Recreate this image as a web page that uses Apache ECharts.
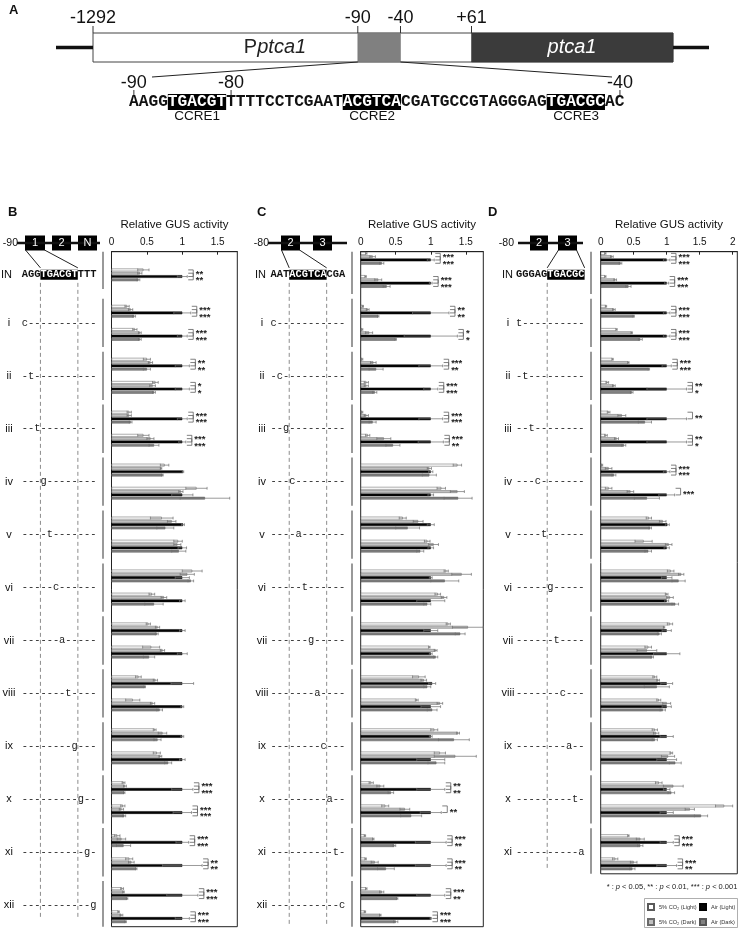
<!DOCTYPE html>
<html>
<head>
<meta charset="utf-8">
<title>ptca1 promoter GUS activity</title>
<script src="https://cdn.jsdelivr.net/npm/echarts@6.0.0/dist/echarts.min.js"></script>
<style>html,body{margin:0;padding:0;background:#fff;}#chart{width:739px;height:930px;}</style>
</head>
<body>
<div id="chart"></div>
<script>
// ================= DATA =================
const CONDITIONS = ['5% CO₂ (Light)', '5% CO₂ (Dark)', 'Air (Light)', 'Air (Dark)'];
const LEGEND_COL1 = ['5% CO₂ (Light)', '5% CO₂ (Dark)'];
const LEGEND_COL2 = ['Air (Light)', 'Air (Dark)'];
const AXIS_TITLE = 'Relative GUS activity';
const P_NOTE = '* : {i|p} < 0.05, ** : {i|p} < 0.01, *** : {i|p} < 0.001';

// Panel A
const A_SEQ = 'AAGGTGACGTTTTTCCTCGAATACGTCACGATGCCGTAGGGAGTGACGCAC';
const A_CCRE = [[4, 10, 'CCRE1'], [22, 28, 'CCRE2'], [43, 49, 'CCRE3']];
const A_TOP_LABELS = ['-1292', '-90', '-40', '+61'];
const A_SEQ_LABELS = [[0, '-90'], [10, '-80'], [50, '-40']];

// Panel B (one subgroup for IN, two for each mutant)
const B_ROWS = ['IN','i','ii','iii','iv','v','vi','vii','viii','ix','x','xi','xii'];
const B_SEQ = 'AGGTGACGTTTT';
const B_MUT = ['c','t','t','g','t','c','a','t','g','g','g','g'];
const B_co2Light    = [0.45, 0.22,0.33, 0.50,0.62, 0.25,0.45, 0.75,1.20, 0.71,0.94, 1.14,0.57, 0.52,0.56, 0.38,0.30, 0.61,0.64, 0.17,0.16, 0.08,0.25, 0.15,0.10];
const B_co2LightErr = [0.08, 0.03,0.03, 0.05,0.04, 0.03,0.08, 0.06,0.15, 0.16,0.06, 0.14,0.04, 0.03,0.12, 0.04,0.10, 0.02,0.05, 0.02,0.03, 0.04,0.05, 0.02,0.01];
const B_co2Dark     = [0.40, 0.27,0.40, 0.55,0.58, 0.25,0.55, 0.70,0.98, 0.85,0.93, 1.07,0.74, 0.65,0.72, 0.62,0.58, 0.72,0.69, 0.19,0.14, 0.14,0.28, 0.17,0.14];
const B_co2DarkErr  = [0.03, 0.03,0.02, 0.03,0.04, 0.03,0.05, 0.01,0.03, 0.06,0.05, 0.10,0.04, 0.03,0.03, 0.03,0.03, 0.06,0.02, 0.02,0.03, 0.06,0.04, 0.01,0.02];
const B_airLight    = [1.00, 1.00,1.00, 1.00,1.00, 1.00,1.00, 1.01,1.00, 1.01,1.00, 1.00,1.00, 1.00,1.00, 1.00,1.00, 1.00,1.00, 1.00,1.00, 1.00,1.00, 1.00,1.00];
const B_airLightErr = [0.07, 0.12,0.07, 0.10,0.10, 0.07,0.05, 0.01,0.15, 0.02,0.06, 0.10,0.04, 0.04,0.07, 0.16,0.02, 0.02,0.04, 0.15,0.13, 0.09,0.28, 0.22,0.10];
const B_airDark     = [0.38, 0.32,0.40, 0.50,0.60, 0.27,0.60, 0.72,1.32, 0.76,0.95, 1.12,0.60, 0.64,0.53, 0.47,0.68, 0.65,0.80, 0.18,0.18, 0.17,0.35, 0.22,0.20];
const B_airDarkErr  = [0.02, 0.02,0.02, 0.05,0.02, 0.02,0.07, 0.01,0.35, 0.12,0.10, 0.04,0.13, 0.02,0.08, 0.01,0.04, 0.05,0.05, 0.01,0.02, 0.10,0.01, 0.01,0.01];
const B_starsLight  = ['**', '***','***', '**','*', '***','***', '','', '','', '','', '','', '','', '','', '***','***', '***','**', '***','***'];
const B_starsDark   = ['**', '***','***', '**','*', '***','***', '','', '','', '','', '','', '','', '','', '***','***', '***','**', '***','***'];

// Panel C
const C_ROWS = ['IN','i','ii','iii','iv','v','vi','vii','viii','ix','x','xi','xii'];
const C_SEQ = 'AATACGTCACGA';
const C_MUT = ['c','c','g','c','a','t','g','a','c','a','t','c'];
const C_co2Light    = [0.08,0.07, 0.03,0.02, 0.02,0.08, 0.02,0.10, 1.38,1.15, 0.60,0.95, 1.22,1.10, 1.25,0.98, 0.83,0.80, 1.05,1.13, 0.15,0.35, 0.06,0.07, 0.08,0.06];
const C_co2LightErr = [0.01,0.01, 0.01,0.01, 0.01,0.03, 0.01,0.03, 0.06,0.06, 0.05,0.04, 0.03,0.04, 0.03,0.01, 0.09,0.02, 0.05,0.08, 0.03,0.05, 0.01,0.01, 0.01,0.01];
const C_co2Dark     = [0.17,0.25, 0.10,0.12, 0.18,0.08, 0.08,0.33, 0.98,1.38, 0.82,1.04, 1.44,1.19, 1.53,1.07, 0.90,1.13, 1.39,1.35, 0.28,0.63, 0.18,0.20, 0.30,0.28];
const C_co2DarkErr  = [0.04,0.05, 0.02,0.05, 0.04,0.03, 0.03,0.10, 0.03,0.10, 0.07,0.07, 0.14,0.04, 0.22,0.02, 0.04,0.04, 0.02,0.30, 0.05,0.07, 0.01,0.05, 0.03,0.01];
const C_airLight    = [1.00,1.00, 1.00,1.00, 1.00,1.00, 1.00,1.00, 1.00,1.00, 1.00,1.00, 1.00,1.00, 1.00,1.00, 1.02,1.00, 1.00,1.00, 1.00,1.00, 1.00,1.00, 1.00,1.00];
const C_airLightErr = [0.05,0.02, 0.26,0.38, 0.17,0.10, 0.17,0.18, 0.03,0.04, 0.05,0.04, 0.02,0.20, 0.10,0.02, 0.05,0.14, 0.02,0.20, 0.20,0.15, 0.22,0.22, 0.20,0.01];
const C_airDark     = [0.30,0.37, 0.25,0.50, 0.22,0.20, 0.17,0.46, 0.98,1.39, 0.67,0.85, 1.20,0.95, 1.42,1.07, 0.95,1.02, 1.33,1.08, 0.43,0.72, 0.48,0.36, 0.52,0.50];
const C_airDarkErr  = [0.03,0.05, 0.01,0.01, 0.10,0.03, 0.05,0.10, 0.10,0.20, 0.17,0.05, 0.20,0.05, 0.07,0.03, 0.05,0.07, 0.22,0.12, 0.04,0.15, 0.02,0.12, 0.01,0.03];
const C_starsLight  = ['***','***', '**','*', '***','***', '***','***', '','', '','', '','', '','', '','', '','', '**','**', '***','***', '***','***'];
const C_starsDark   = ['***','***', '**','*', '**','***', '***','**', '','', '','', '','', '','', '','', '','', '**','', '**','**', '**','***'];

// Panel D
const D_ROWS = ['IN','i','ii','iii','iv','v','vi','vii','viii','ix','x','xi'];
const D_SEQ = 'GGGAGTGACGC';
const D_MUT = ['t','t','t','c','t','g','t','c','a','t','a'];
const D_co2Light    = [0.07,0.07, 0.08,0.24, 0.18,0.10, 0.12,0.08, 0.02,0.12, 0.73,0.65, 1.06,1.00, 1.05,0.72, 0.82,0.88, 0.82,1.07, 0.88,1.87, 0.42,0.22];
const D_co2LightErr = [0.01,0.01, 0.01,0.01, 0.01,0.02, 0.02,0.02, 0.01,0.05, 0.04,0.13, 0.05,0.02, 0.04,0.05, 0.03,0.03, 0.04,0.02, 0.05,0.13, 0.01,0.04];
const D_co2Dark     = [0.17,0.22, 0.20,0.47, 0.42,0.20, 0.32,0.24, 0.12,0.45, 0.94,1.03, 1.22,1.05, 0.96,0.70, 0.87,1.00, 0.84,1.02, 1.10,1.35, 0.60,0.50];
const D_co2DarkErr  = [0.02,0.02, 0.02,0.01, 0.01,0.02, 0.06,0.03, 0.05,0.05, 0.05,0.05, 0.04,0.05, 0.01,0.15, 0.02,0.06, 0.04,0.10, 0.15,0.07, 0.06,0.05];
const D_airLight    = [1.00,1.00, 1.00,1.00, 1.00,1.00, 1.00,1.00, 1.00,1.00, 1.01,1.00, 1.00,1.00, 1.00,1.00, 1.00,1.00, 1.00,1.00, 1.00,1.00, 1.00,1.00];
const D_airLightErr = [0.05,0.03, 0.05,0.05, 0.07,0.30, 0.30,0.30, 0.05,0.12, 0.03,0.04, 0.08,0.03, 0.07,0.20, 0.09,0.07, 0.10,0.15, 0.05,0.10, 0.10,0.15];
const D_airDark     = [0.30,0.42, 0.50,0.60, 0.73,0.47, 0.67,0.35, 0.20,0.70, 0.75,0.72, 1.18,1.13, 0.89,0.78, 0.85,0.94, 0.82,1.13, 1.07,1.52, 0.60,0.48];
const D_airDarkErr  = [0.02,0.04, 0.01,0.03, 0.01,0.02, 0.10,0.03, 0.03,0.19, 0.02,0.05, 0.10,0.05, 0.03,0.02, 0.19,0.04, 0.04,0.09, 0.05,0.10, 0.04,0.04];
const D_starsLight  = ['***','***', '***','***', '***','**', '**','**', '***','***', '','', '','', '','', '','', '','', '','', '***','***'];
const D_starsDark   = ['***','***', '***','***', '***','*', '','*', '***','', '','', '','', '','', '','', '','', '','', '***','**'];

// ================= STYLE / LAYOUT =================
const FONT = "'Liberation Sans', Arial, Helvetica, sans-serif";
const MONO = "'Liberation Mono', 'Courier New', monospace";
const BAR_STYLE = [
  {color:'#ffffff', border:'#5a5a5a'},
  {color:'#bfbfbf', border:'#6a6a6a'},
  {color:'#050505', border:'#000000'},
  {color:'#818181', border:'#555555'}
];
const TOP = 251.7;
const PANELS = [
  {rows:B_ROWS, single:true, N:204, left:111.5, width:125.8, height:675, max:1.777,
   vals:[B_co2Light,B_co2Dark,B_airLight,B_airDark], errs:[B_co2LightErr,B_co2DarkErr,B_airLightErr,B_airDarkErr], stars:[B_starsLight,B_starsDark]},
  {rows:C_ROWS, single:false, N:204, left:360.7, width:122.6, height:675, max:1.75,
   vals:[C_co2Light,C_co2Dark,C_airLight,C_airDark], errs:[C_co2LightErr,C_co2DarkErr,C_airLightErr,C_airDarkErr], stars:[C_starsLight,C_starsDark]},
  {rows:D_ROWS, single:false, N:188, left:600.7, width:136.6, height:622.1, max:2.07,
   vals:[D_co2Light,D_co2Dark,D_airLight,D_airDark], errs:[D_co2LightErr,D_co2DarkErr,D_airLightErr,D_airDarkErr], stars:[D_starsLight,D_starsDark]}
];

function slotStarts(n, single) {
  const s = [];
  for (let r = 0; r < n; r++) {
    if (r === 0 && single) s.push(5);
    else s.push(16 * r, 16 * r + 7);
  }
  return s;
}

function renderErr(params, api) {
  const a = api.coord([api.value(0), api.value(2)]);
  const b = api.coord([api.value(1), api.value(2)]);
  const h = 1.4;
  const st = {stroke:'#6e6e6e', lineWidth:0.7};
  return {type:'group', children:[
    {type:'line', shape:{x1:a[0], y1:a[1], x2:b[0], y2:b[1]}, style:st},
    {type:'line', shape:{x1:a[0], y1:a[1]-h, x2:a[0], y2:a[1]+h}, style:st},
    {type:'line', shape:{x1:b[0], y1:b[1]-h, x2:b[0], y2:b[1]+h}, style:st}
  ]};
}

function makeBracket(P) {
  return function (params, api) {
    const bxL = api.value(0), s = api.value(1), bxD = api.value(2), g = api.value(3);
    const children = [];
    const st = {stroke:'#606060', lineWidth:0.8, fill:null};
    const yOf = i => api.coord([0, s + i])[1];
    const add = (bx, i0, i1, txt, ty) => {
      const X = api.coord([bx, s + i0])[0] + 6;
      const y0 = yOf(i0), y1 = yOf(i1);
      children.push({type:'polyline', shape:{points:[[X-5, y0], [X, y0], [X, y1], [X-5, y1]]}, style:st});
      children.push({type:'text', style:{text:txt, x:X + 2.5, y:ty + 2.4, font:'bold 9.5px ' + FONT, fill:'#222',
        textAlign:'left', textVerticalAlign:'middle', align:'left', verticalAlign:'middle'}});
    };
    const sl = P.stars[0][g], sd = P.stars[1][g];
    if (sl) add(bxL, 0, 2, sl, (yOf(0) + yOf(1)) / 2 - (sd ? 0 : -2));
    if (sd) add(bxD, 1, 3, sd, (yOf(2) + yOf(3)) / 2);
    return {type:'group', children};
  };
}

const grids = [], xAxes = [], yAxes = [], series = [];
PANELS.forEach((P, k) => {
  P.starts = slotStarts(P.rows.length, P.single);
  grids.push({left:P.left, top:TOP, width:P.width, height:P.height, show:true, borderColor:'#222', borderWidth:1, backgroundColor:'transparent'});
  xAxes.push({gridIndex:k, type:'value', position:'top', min:0, max:P.max, interval:0.5,
    name:AXIS_TITLE, nameLocation:'middle', nameGap:21,
    nameTextStyle:{fontFamily:FONT, fontSize:11.5, color:'#111'},
    axisLine:{show:true, lineStyle:{color:'#222', width:1}},
    axisTick:{show:true, inside:true, length:3, lineStyle:{color:'#222'}},
    axisLabel:{fontFamily:FONT, fontSize:10, color:'#111', margin:4, showMaxLabel:false},
    splitLine:{show:false}});
  yAxes.push({gridIndex:k, type:'category', inverse:true, show:false,
    data:Array.from({length:P.N}, (_, i) => String(i))});
  CONDITIONS.forEach((name, ci) => {
    const data = new Array(P.N).fill('-');
    P.starts.forEach((s, g) => { data[s + ci] = P.vals[ci][g]; });
    series.push({type:'bar', name, xAxisIndex:k, yAxisIndex:k, data, barWidth:2.7, barGap:'-100%',
      itemStyle:{color:BAR_STYLE[ci].color, borderColor:BAR_STYLE[ci].border, borderWidth:0.5},
      silent:true, animation:false});
  });
  const ed = [];
  P.starts.forEach((s, g) => {
    for (let ci = 0; ci < 4; ci++) {
      const v = P.vals[ci][g], e = P.errs[ci][g];
      ed.push([Math.max(0, v - e), v + e, s + ci]);
    }
  });
  series.push({type:'custom', xAxisIndex:k, yAxisIndex:k, data:ed, encode:{x:[0,1], y:2},
    renderItem:renderErr, silent:true, z:5, animation:false});
  const bd = [];
  P.starts.forEach((s, g) => {
    const tp = ci => P.vals[ci][g] + P.errs[ci][g];
    if (!P.stars[0][g] && !P.stars[1][g]) return;
    bd.push([Math.max(tp(0), tp(1), tp(2)), s, Math.max(tp(1), tp(2), tp(3)), g]);
  });
  series.push({type:'custom', xAxisIndex:k, yAxisIndex:k, data:bd, encode:{x:[0,2], y:1},
    renderItem:makeBracket(P), silent:true, z:6, animation:false});
});

const legendBase = {orient:'vertical', top:903, itemWidth:6, itemHeight:6, itemGap:7, padding:0,
  icon:'rect', selectedMode:false, textStyle:{fontFamily:FONT, fontSize:5.6, color:'#333'}};
const chart = echarts.init(document.getElementById('chart'), null, {renderer:'canvas', width:739, height:930});
chart.setOption({
  animation:false,
  backgroundColor:'#ffffff',
  grid:grids, xAxis:xAxes, yAxis:yAxes, series,
  legend:[Object.assign({data:LEGEND_COL1, left:647}, legendBase), Object.assign({data:LEGEND_COL2, left:699}, legendBase)]
});

// ================= ANNOTATION GRAPHICS =================
const G = [];
function txt(x, y, text, size, opt) {
  opt = opt || {};
  G.push({type:'text', silent:true, z:10, style:Object.assign({
    x, y, text, fill:opt.fill || '#111',
    font:(opt.weight || 'normal') + ' ' + size + 'px ' + (opt.family || FONT),
    textAlign:opt.align || 'left', align:opt.align || 'left',
    textVerticalAlign:'middle', verticalAlign:'middle'}, opt.extra || {})});
}
function ln(x1, y1, x2, y2, w, color, dash) {
  G.push({type:'line', silent:true, z:9, shape:{x1, y1, x2, y2},
    style:{stroke:color || '#111', lineWidth:w || 1, lineDash:dash || null}});
}
function rect(x, y, w, h, fill, stroke, lw) {
  G.push({type:'rect', silent:true, z:8, shape:{x, y, width:w, height:h},
    style:{fill, stroke:stroke || null, lineWidth:lw || 0}});
}
function seqText(x, y, seq, hl, size, lh) {
  let t = '';
  let pos = 0;
  hl.forEach(([a, b]) => { t += (a > pos ? '{n|' + seq.slice(pos, a) + '}' : '') + '{h|' + seq.slice(a, b) + '}'; pos = b; });
  if (pos < seq.length) t += '{n|' + seq.slice(pos) + '}';
  G.push({type:'text', silent:true, z:10, style:{x, y, text:t,
    font:'bold ' + size + 'px ' + MONO, textAlign:'left', align:'left', textVerticalAlign:'middle', verticalAlign:'middle',
    rich:{
      n:{fill:'#111', color:'#111', font:'bold ' + size + 'px ' + MONO, fontFamily:MONO, fontSize:size, fontWeight:'bold', lineHeight:lh},
      h:{fill:'#fff', color:'#fff', backgroundColor:'#000', font:'bold ' + size + 'px ' + MONO, fontFamily:MONO, fontSize:size, fontWeight:'bold', lineHeight:lh}
    }}});
}

// ---- Panel A ----
txt(9, 10, 'A', 13, {weight:'bold'});
const A_X = [93, 357.8, 400.5, 471.5];
A_TOP_LABELS.forEach((l, i) => { txt(A_X[i], 18, l, 18, {align:'center'}); ln(A_X[i], 26, A_X[i], 33, 1, '#333'); });
ln(56, 47.5, 93, 47.5, 3.5, '#111');
ln(673, 47.5, 709, 47.5, 3.5, '#111');
rect(93, 33, 580, 29, '#ffffff', '#444', 1);
rect(357.8, 33, 42.7, 29, '#808080', '#707070', 0.5);
rect(471.5, 33, 201.5, 29, '#3b3b3b', '#333', 0.5);
G.push({type:'text', silent:true, z:10, style:{x:275, y:47.5, text:'P{i|ptca1}', fill:'#222', font:'20px ' + FONT,
  textAlign:'center', align:'center', textVerticalAlign:'middle', verticalAlign:'middle',
  rich:{i:{fontStyle:'italic', fontSize:20, fontFamily:FONT, fill:'#222', color:'#222'}}}});
txt(572, 47.5, 'ptca1', 20, {align:'center', fill:'#fff', weight:'italic'});
ln(357.8, 62, 152, 77, 1, '#222');
ln(400.5, 62, 612, 77, 1, '#222');
const A_FS = 16.2, A_CW = A_FS * 0.6001, A_X0 = 129;
A_SEQ_LABELS.forEach(([i, l]) => {
  const cx = A_X0 + (i + 0.5) * A_CW;
  txt(cx, 83, l, 18, {align:'center'});
  ln(cx, 90, cx, 95, 1, '#333');
});
seqText(A_X0, 102, A_SEQ, A_CCRE.map(c => [c[0], c[1]]), A_FS, 16);
A_CCRE.forEach(([a, b, l]) => txt(A_X0 + (a + b) / 2 * A_CW, 116, l, 13.5, {align:'center'}));

// ---- Panels B, C, D left-hand diagrams ----
const DY = 243;
const LEFT = [
  {letter:'B', lx:8, pre:'-90', preX:18, line:[17, 100], boxes:[[25, 45, '1'], [52, 71, '2'], [78, 97, 'N']],
   seq:B_SEQ, mut:B_MUT, hl:[3, 9], x0:21.7, inX:1, labX:9, grpX:103, dashes:[3, 9], dashEnd:918, src:[[25.5, 250], [44.5, 250]]},
  {letter:'C', lx:257, pre:'-80', preX:269, line:[268, 347], boxes:[[281, 300, '2'], [313, 332, '3']],
   seq:C_SEQ, mut:C_MUT, hl:[3, 9], x0:270.5, inX:255, labX:262, grpX:352, dashes:[3, 9], dashEnd:925, src:[[281.5, 250], [299.5, 250]]},
  {letter:'D', lx:488, pre:'-80', preX:514, line:[518, 583], boxes:[[530, 548, '2'], [558, 577, '3']],
   seq:D_SEQ, mut:D_MUT, hl:[5, 11], x0:516, inX:502, labX:508, grpX:591, dashes:[5], dashEnd:870, src:[[558.5, 250], [576.5, 250]]}
];
const SFS = 10.4, SCW = SFS * 0.6001;

LEFT.forEach((L, k) => {
  const P = PANELS[k];
  const c0 = chart.convertToPixel({gridIndex:k}, [0, 0])[1];
  const c1 = chart.convertToPixel({gridIndex:k}, [0, 1])[1];
  const u = c1 - c0, top = c0 - u / 2;
  const yB = b => top + b * u;   // pixel of slot boundary b
  txt(L.lx, 212, L.letter, 13, {weight:'bold'});
  txt(L.preX, DY, L.pre, 10.5, {align:'right'});
  ln(L.line[0], DY, L.line[1], DY, 2.5, '#111');
  L.boxes.forEach(([a, b, t]) => { rect(a, DY - 7.5, b - a, 15, '#000'); txt((a + b) / 2, DY, t, 11, {align:'center', fill:'#fff'}); });
  const yIN = yB(7);
  const hs = L.x0 + L.hl[0] * SCW, he = L.x0 + L.hl[1] * SCW;
  ln(L.src[0][0], L.src[0][1], hs, yIN - 7, 1, '#222');
  ln(L.src[1][0], L.src[1][1], he, yIN - 7, 1, '#222');
  txt(L.inX, yIN, 'IN', 11);
  seqText(L.x0, yIN, L.seq, [L.hl], SFS, 14);
  L.dashes.forEach(ci => { const x = L.x0 + ci * SCW; ln(x, yIN + 8, x, L.dashEnd, 1, '#8c8c8c', [4, 3]); });
  // mutant rows
  L.mut.forEach((m, i) => {
    const r = i + 1;
    const y = yB(16 * r + 5.5);
    txt(L.labX, y, P.rows[r], 11, {align:'center'});
    const s = '-'.repeat(i) + m + '-'.repeat(L.seq.length - 1 - i);
    txt(L.x0, y, s, SFS, {family:MONO, fill:'#222'});
  });
  // group bars next to the plot
  P.rows.forEach((_, r) => {
    let b0, b1;
    if (r === 0 && P.single) { b0 = 0; b1 = 11.3; }
    else { b0 = Math.max(0, 16 * r - 1.8); b1 = Math.min(P.N, 16 * r + 12.8); }
    ln(L.grpX, yB(b0), L.grpX, yB(b1), 1.2, '#555');
  });
});

G.push({type:'text', silent:true, z:10, style:{x:672, y:887, text:P_NOTE, fill:'#222', font:'7.5px ' + FONT,
  textAlign:'center', align:'center', textVerticalAlign:'middle', verticalAlign:'middle',
  rich:{i:{fontStyle:'italic', fontSize:7.5, fontFamily:FONT, fill:'#222', color:'#222'}}}});
// legend frame
G.push({type:'rect', silent:true, z:1, shape:{x:644.5, y:898.5, width:93, height:29},
  style:{fill:'#fff', stroke:'#9a9a9a', lineWidth:0.8}});

chart.setOption({graphic:{elements:G}});
</script>
</body>
</html>
